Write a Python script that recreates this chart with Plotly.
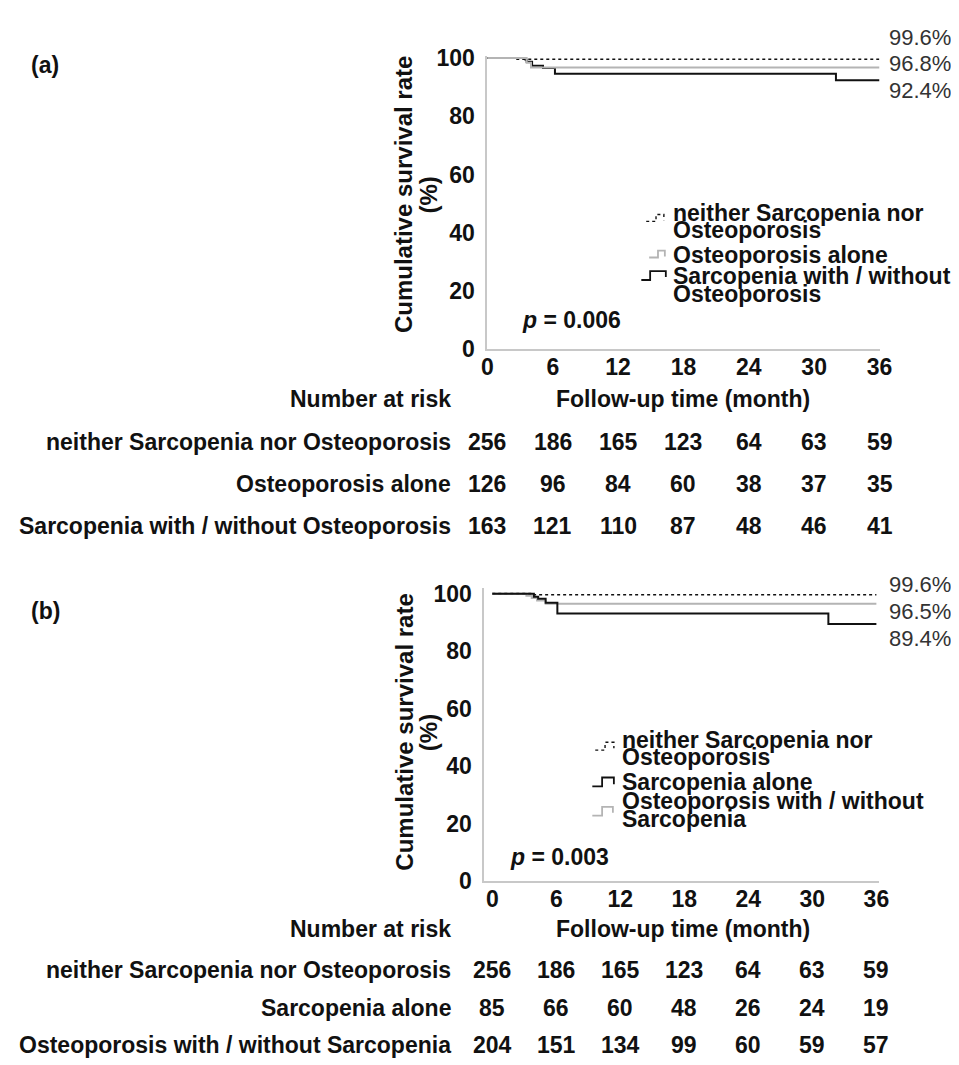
import plotly.graph_objects as go

W, H = 959, 1065
FONT = "Arial, 'Liberation Sans', Helvetica, sans-serif"
BLACK = "#111111"
GRAY = "#b4b4b4"
AXIS = "#c8c8c8"

months = [0, 6, 12, 18, 24, 30, 36]
y_ticks = [0, 20, 40, 60, 80, 100]

# ---------- Panel (a) ----------
a_neither_t = [0, 2.5, 36]
a_neither_s = [100, 99.6, 99.6]
a_osteo_t = [0, 3.6, 4.0, 36]
a_osteo_s = [100, 98.4, 96.8, 96.8]
a_sarc_t = [0, 3.5, 3.6, 4.1, 5.1, 6.2, 32.0, 36]
a_sarc_s = [100, 99.4, 98.7, 97.4, 96.6, 94.6, 92.4, 92.4]
a_final_labels = ["99.6%", "96.8%", "92.4%"]
a_groups = ["neither Sarcopenia nor Osteoporosis", "Osteoporosis alone",
            "Sarcopenia with / without Osteoporosis"]
a_risk_neither = [256, 186, 165, 123, 64, 63, 59]
a_risk_osteo = [126, 96, 84, 60, 38, 37, 35]
a_risk_sarc = [163, 121, 110, 87, 48, 46, 41]
a_p = "0.006"

# ---------- Panel (b) ----------
b_neither_t = [0, 3.8, 36]
b_neither_s = [100, 99.6, 99.6]
b_sarc_t = [0, 3.9, 4.3, 5.0, 6.1, 31.5, 36]
b_sarc_s = [100, 98.9, 98.2, 96.8, 93.1, 89.4, 89.4]
b_osteo_t = [0, 3.2, 3.7, 4.2, 5.0, 36]
b_osteo_s = [100, 99.3, 98.5, 97.6, 96.5, 96.5]
b_final_labels = ["99.6%", "96.5%", "89.4%"]
b_groups = ["neither Sarcopenia nor Osteoporosis", "Sarcopenia alone",
            "Osteoporosis with / without Sarcopenia"]
b_risk_neither = [256, 186, 165, 123, 64, 63, 59]
b_risk_sarc = [85, 66, 60, 48, 26, 24, 19]
b_risk_osteo = [204, 151, 134, 99, 60, 59, 57]
b_p = "0.003"


def px(x):
    return x / W


def py(y):
    return 1 - y / H


fig = go.Figure()

# panel (a) curves
fig.add_trace(go.Scatter(x=a_neither_t, y=a_neither_s, mode="lines", line_shape="hv",
                         line=dict(color=BLACK, width=1.6, dash="dot"), xaxis="x", yaxis="y"))
fig.add_trace(go.Scatter(x=a_sarc_t, y=a_sarc_s, mode="lines", line_shape="hv",
                         line=dict(color=BLACK, width=2), xaxis="x", yaxis="y"))
fig.add_trace(go.Scatter(x=a_osteo_t, y=a_osteo_s, mode="lines", line_shape="hv",
                         line=dict(color=GRAY, width=2), xaxis="x", yaxis="y"))
# panel (b) curves
fig.add_trace(go.Scatter(x=b_neither_t, y=b_neither_s, mode="lines", line_shape="hv",
                         line=dict(color=BLACK, width=1.6, dash="dot"), xaxis="x2", yaxis="y2"))
fig.add_trace(go.Scatter(x=b_osteo_t, y=b_osteo_s, mode="lines", line_shape="hv",
                         line=dict(color=GRAY, width=2), xaxis="x2", yaxis="y2"))
fig.add_trace(go.Scatter(x=b_sarc_t, y=b_sarc_s, mode="lines", line_shape="hv",
                         line=dict(color=BLACK, width=2), xaxis="x2", yaxis="y2"))

tickfont = dict(family=FONT, size=23, color=BLACK, weight="bold")
common_x = dict(showline=True, linecolor=AXIS, linewidth=2, showgrid=False, zeroline=False,
                ticks="", ticklen=0, tickvals=months, tickfont=tickfont, ticklabelstandoff=-4)
common_y = dict(showline=True, linecolor=AXIS, linewidth=2, showgrid=False, zeroline=False,
                ticks="", ticklen=0, tickvals=y_ticks, tickfont=tickfont, ticklabelstandoff=6)

fig.update_layout(
    width=W, height=H, margin=dict(l=0, r=0, t=0, b=0),
    paper_bgcolor="white", plot_bgcolor="white", showlegend=False,
    xaxis=dict(domain=[px(483), px(883)], range=[0, 36], anchor="y", **common_x),
    yaxis=dict(domain=[py(338), py(38.2)], range=[0, 100.6], anchor="x", **common_y),
    xaxis2=dict(domain=[px(480), px(882)], range=[-0.73, 36.2], anchor="y2", **common_x),
    yaxis2=dict(domain=[py(882), py(581.7)], range=[0, 102.1], anchor="x2", **common_y),
)

ann = []


def text(x, y, s, size=23, bold=True, anchor="left", color=BLACK, angle=0, xref="paper"):
    ann.append(dict(x=x, y=y, xref=xref, yref="paper", text=s, showarrow=False,
                    xanchor=anchor, yanchor="middle", textangle=angle,
                    font=dict(family=FONT, size=size, color=color,
                              weight="bold" if bold else "normal")))


shapes = []


def glyph(x0, x1, x2, ylow, yhigh, yend, color, dash="solid", width=1.6):
    path = (f"M {px(x0)},{py(ylow)} L {px(x1)},{py(ylow)} L {px(x1)},{py(yhigh)} "
            f"L {px(x2)},{py(yhigh)} L {px(x2)},{py(yend)}")
    shapes.append(dict(type="path", path=path, xref="paper", yref="paper",
                       line=dict(color=color, width=width, dash=dash)))


# ---- panel labels
text(px(15), py(47), "(a)")
text(px(15), py(606), "(b)")

# ---- y titles
for yc in (180, 730):
    text(px(398), py(yc), "Cumulative survival rate", size=24, anchor="center", angle=-90)
    text(px(423), py(yc), "(%)", size=24, anchor="center", angle=-90)

# ---- final survival labels
for lab, yy in zip(a_final_labels, [19, 46, 73]):
    text(px(891), py(yy), lab, size=22, bold=False, color="#333333")
for lab, yy in zip(b_final_labels, [579, 606, 634]):
    text(px(891), py(yy), lab, size=22, bold=False, color="#333333")

# ---- p values
text(px(516), py(308), f"<i>p</i> = {a_p}")
text(px(504), py(857), f"<i>p</i> = {b_p}")

# ---- legends
text(px(670), py(198), "neither Sarcopenia nor")
text(px(670), py(216), "Osteoporosis")
text(px(670), py(241), "Osteoporosis alone")
text(px(670), py(263), "Sarcopenia with / without")
text(px(670), py(281), "Osteoporosis")
glyph(645, 655, 663, 207, 200, 206, BLACK, dash="dot", width=1.4)
glyph(648, 657, 664, 244, 237, 243, GRAY, width=1.8)
glyph(640, 649, 665, 267, 258, 264, BLACK, width=1.8)

text(px(618), py(738), "neither Sarcopenia nor")
text(px(618), py(755), "Osteoporosis")
text(px(618), py(781), "Sarcopenia alone")
text(px(618), py(800), "Osteoporosis with / without")
text(px(618), py(818), "Sarcopenia")
glyph(593, 603, 612, 748, 740, 746, BLACK, dash="dot", width=1.4)
glyph(590, 600, 612, 785, 776, 783, BLACK, width=1.8)
glyph(590, 600, 611, 815, 806, 812, GRAY, width=1.8)


# ---- number at risk tables
def table(xref, header_y, row_ys, groups, risks):
    text(px(448), py(header_y), "Number at risk", anchor="right")
    text(px(683), py(header_y), "Follow-up time (month)", anchor="center")
    for g, r, yy in zip(groups, risks, row_ys):
        text(px(448), py(yy), g, anchor="right")
        for m, n in zip(months, r):
            text(m, py(yy), str(n), anchor="center", xref=xref)


table("x", 389, [433, 476, 519], a_groups, [a_risk_neither, a_risk_osteo, a_risk_sarc])
table("x2", 931, [973, 1012, 1050], b_groups, [b_risk_neither, b_risk_sarc, b_risk_osteo])

fig.update_layout(annotations=ann, shapes=shapes)
fig.write_html("out.html")
